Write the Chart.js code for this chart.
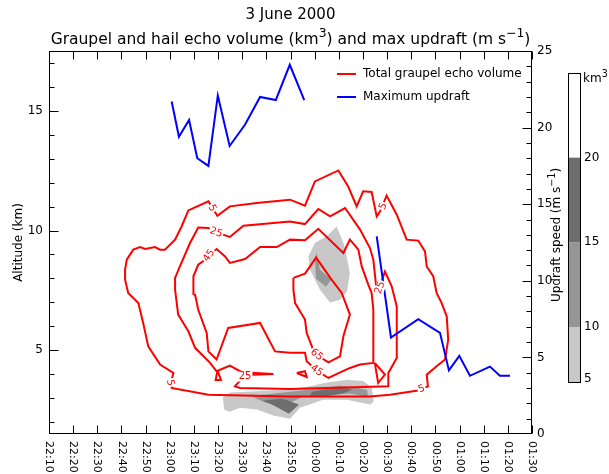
<!DOCTYPE html>
<html>
<head>
<meta charset="utf-8">
<script src="https://cdn.jsdelivr.net/npm/chart.js@4.4.0/dist/chart.umd.min.js"></script>
<style>
  html, body { margin: 0; padding: 0; background: #fff; }
</style>
</head>
<body>
<canvas id="chart" width="609" height="474"></canvas>
<script>
// x axis: minutes after 22:10
const timeLabels = ['22:10', '22:20', '22:30', '22:40', '22:50', '23:00', '23:10', '23:20', '23:30', '23:40', '23:50',
                    '00:00', '00:10', '00:20', '00:30', '00:40', '00:50', '01:00', '01:10', '01:20', '01:30'];
const altitudeTicks = [2, 3, 4, 5, 6, 7, 8, 9, 10, 11, 12, 13, 14, 15, 16, 17];

// maximum updraft (m/s), null = no data
const updraftTime  = [50.8, 53.8, 58.0, 61.4, 66.0, 69.9, 74.8, 81.2, 87.4, 93.9, 99.7, 105.7,
                      120, 135.7, 141.6, 152.9, 161.9, 165.6, 169.9, 174.3, 182.6, 186.7, 190.9];
const updraftSpeed = [21.7, 19.4, 20.5, 18.0, 17.5, 22.1, 18.8, 20.2, 22.0, 21.8, 24.1, 21.8,
                      null, 12.9, 6.3, 7.5, 6.6, 4.15, 5.1, 3.8, 4.4, 3.8, 3.8];

// total graupel echo volume contours [minutes, km]
const contour5 = [[31.5, 8.37], [32.2, 8.78], [34.9, 9.20], [37.7, 9.31], [39.8, 9.23], [43.9, 9.31], [46.0, 9.20],
  [48.0, 9.20], [52.2, 9.62], [54.9, 10.17], [57.7, 10.84], [66.0, 11.22], [69.7, 10.62], [74.9, 11.01], [86.0, 11.15],
  [99.8, 11.29], [106.0, 11.04], [110.1, 12.05], [119.8, 12.51], [123.9, 11.84], [127.4, 11.01], [130.1, 11.64],
  [133.6, 11.61], [135.7, 10.59], [137.1, 10.80], [139.8, 11.46], [144.0, 10.66], [148.1, 9.62], [152.9, 9.58],
  [155.7, 9.13], [156.4, 8.50], [159.1, 8.09], [160.5, 7.39], [162.6, 6.97], [164.7, 6.41], [165.3, 5.44],
  [164.0, 4.61], [160.5, 4.33], [156.4, 3.98], [156.9, 3.49], [152.8, 3.32], [141.2, 3.14], [132.9, 3.07],
  [99.8, 3.07], [66.0, 3.14], [50.8, 3.42], [50.8, 3.77], [51.5, 4.05], [46.0, 4.40], [41.1, 5.16], [39.0, 6.14],
  [37.0, 6.97], [32.8, 7.39], [31.5, 7.95]];
const contour25 = [[52.2, 7.53], [52.2, 8.02], [54.2, 8.50], [58.4, 9.48], [61.8, 10.13], [66.0, 10.11], [69.2, 9.92],
  [74.9, 9.73], [80.5, 10.20], [99.8, 10.38], [106.0, 10.27], [111.5, 10.90], [116.4, 10.59], [122.6, 10.94],
  [128.8, 10.04], [132.9, 9.27], [134.3, 8.78], [135.4, 7.74], [136.6, 7.49], [137.9, 7.91], [139.1, 8.29],
  [141.9, 7.67], [144.0, 6.83], [144.0, 4.68], [140.5, 4.05], [140.5, 3.49], [99.8, 3.38], [79.1, 3.42],
  [77.0, 3.49], [79.1, 3.73], [81.2, 3.96], [92.9, 4.01], [79.8, 4.08], [74.9, 4.36], [69.4, 4.12], [66.7, 4.47],
  [60.5, 5.10], [57.7, 5.79], [53.5, 6.49]];
const contour45 = [[59.8, 7.32], [59.8, 8.09], [61.8, 8.57], [64.6, 8.78], [66.3, 8.95], [69.4, 9.23], [72.9, 8.92],
  [74.9, 8.65], [81.2, 8.81], [87.4, 9.31], [94.3, 9.31], [99.8, 9.62], [106.0, 9.59], [111.5, 10.07], [121.9, 9.06],
  [124.6, 9.62], [128.1, 9.20], [129.5, 8.50], [132.2, 7.74], [133.6, 7.39], [134.3, 6.69], [134.3, 4.47],
  [128.8, 4.40], [124.6, 4.26], [115.7, 3.84], [110.8, 4.15], [106.7, 4.54], [106.0, 4.89], [99.8, 4.89],
  [93.6, 4.95], [87.4, 6.14], [74.2, 5.93], [69.4, 4.61], [66.0, 4.95], [65.3, 5.72], [61.8, 6.69], [60.5, 7.32]];
const contour65 = [[101.2, 8.02], [106.0, 8.20], [110.6, 8.87], [116.4, 8.03], [121.2, 7.39], [124.6, 6.49],
  [121.9, 5.58], [120.5, 4.74], [115.7, 4.49], [110.8, 4.81], [109.4, 5.02], [106.7, 5.72], [106.0, 6.28],
  [101.9, 6.97], [101.2, 7.53]];
const contourBits = [
  [[69.8, 4.15], [69.0, 3.76], [71.2, 3.76]],
  [[102.6, 4.05], [106.0, 4.12], [106.7, 3.88]],
  [[134.9, 4.47], [139.1, 3.98], [136.3, 3.63]]
];
const contourLabels = [
  {text: '5',  t: 67.5,  h: 10.93, rot: 60},
  {text: '25', t: 69.2,  h: 9.92,  rot: 20},
  {text: '45', t: 66.3,  h: 8.95,  rot: -55},
  {text: '5',  t: 50.1,  h: 3.64,  rot: 80},
  {text: '25', t: 81.2,  h: 3.90,  rot: 0},
  {text: '65', t: 110.8, h: 4.81,  rot: 40},
  {text: '45', t: 110.8, h: 4.15,  rot: 35},
  {text: '5',  t: 154.3, h: 3.38,  rot: -20},
  {text: '5',  t: 138.4, h: 11.01, rot: -65},
  {text: '25', t: 137.1, h: 7.61,  rot: -70}
];

// graupel and hail echo volume (km3) shaded areas [minutes, km]
const vol5 = [
  [[119.1, 10.17], [122.2, 9.41], [124.6, 8.24], [123.4, 7.45], [120.5, 7.11], [116.4, 6.99], [112.2, 7.53],
   [108.1, 8.36], [107.4, 8.92], [110.1, 9.48], [115.0, 9.76]],
  [[72.0, 3.02], [74.9, 3.23], [86.1, 3.29], [99.8, 3.37], [108.1, 3.50], [113.5, 3.62], [123.4, 3.77], [130.0, 3.71],
   [133.7, 3.44], [134.4, 2.85], [132.9, 2.73], [123.4, 2.93], [113.5, 2.93], [103.9, 2.60], [99.8, 2.14],
   [92.8, 2.27], [86.1, 2.52], [79.1, 2.60], [74.9, 2.43], [72.5, 2.52]]
];
const vol10 = [
  [[110.8, 9.08], [112.2, 8.36], [116.8, 7.95], [114.7, 7.65], [110.6, 7.99], [110.1, 8.78]],
  [[84.1, 3.10], [91.5, 3.17], [99.8, 3.27], [109.3, 3.37], [120.5, 3.52], [126.3, 3.44], [131.7, 3.35],
   [132.1, 3.06], [124.6, 3.19], [113.5, 3.12], [105.2, 3.06], [100.6, 2.85], [97.7, 2.52], [91.5, 2.77], [86.5, 2.94]]
];
const vol15 = [
  [[88.2, 2.89], [96.5, 2.98], [103.5, 2.73], [99.4, 2.35], [92.3, 2.73]],
  [[108.9, 3.27], [120.5, 3.46], [125.5, 3.35], [121.7, 3.19], [113.5, 3.06], [108.1, 3.10]]
];
const volumeLevels = [5, 10, 15, 20];
const volumeColors = ['#c8c8c8', '#969696', '#6e6e6e'];

const FONT = '"DejaVu Sans", sans-serif';

function closed(arr) {
    const pts = arr.map(([t, h]) => ({x: t, y: h}));
    pts.push({x: arr[0][0], y: arr[0][1]});
    return pts;
}

// text with superscript parts: [[text, isSup], ...]
function richWidth(ctx, parts, size) {
    let w = 0;
    parts.forEach(([s, sup]) => {
        ctx.font = (sup ? size * 0.8 : size) + 'px ' + FONT;
        w += ctx.measureText(s).width;
    });
    return w;
}
function drawRich(ctx, parts, x, y, size) {
    parts.forEach(([s, sup]) => {
        ctx.font = (sup ? size * 0.8 : size) + 'px ' + FONT;
        ctx.fillText(s, x, sup ? y - size * 0.45 : y);
        x += ctx.measureText(s).width;
    });
}

const datasets = [];
vol5.forEach(p => datasets.push({data: closed(p), backgroundColor: volumeColors[0], borderWidth: 0, fill: 'shape', order: 4}));
vol10.forEach(p => datasets.push({data: closed(p), backgroundColor: volumeColors[1], borderWidth: 0, fill: 'shape', order: 3}));
vol15.forEach(p => datasets.push({data: closed(p), backgroundColor: volumeColors[2], borderWidth: 0, fill: 'shape', order: 2}));
[contour5, contour25, contour45, contour65, ...contourBits].forEach(c => {
    datasets.push({data: closed(c), borderColor: '#ff0000', borderWidth: 2, fill: false, order: 1});
});
datasets.push({
    data: updraftTime.map((t, i) => ({x: t, y: updraftSpeed[i]})),
    yAxisID: 'y2', borderColor: '#0000ff', borderWidth: 2, fill: false, spanGaps: false, order: 0
});

const decorations = {
    id: 'decorations',
    afterDatasetsDraw(chart) {
        const {ctx, scales: {x, y}} = chart;
        ctx.save();
        ctx.font = '10px ' + FONT;
        ctx.textAlign = 'center';
        ctx.textBaseline = 'middle';
        contourLabels.forEach(l => {
            ctx.save();
            ctx.translate(x.getPixelForValue(l.t), y.getPixelForValue(l.h));
            ctx.rotate(l.rot * Math.PI / 180);
            const w = ctx.measureText(l.text).width;
            ctx.fillStyle = '#fff';
            ctx.fillRect(-w / 2 - 1, -5, w + 2, 10);
            ctx.fillStyle = '#ff0000';
            ctx.fillText(l.text, 0, 0);
            ctx.restore();
        });
        ctx.restore();
    },
    afterDraw(chart) {
        const {ctx, chartArea: a, scales: {x, y, y2}} = chart;
        ctx.save();
        ctx.strokeStyle = '#000';
        ctx.fillStyle = '#000';
        ctx.lineWidth = 1;
        const L = Math.round(a.left) + 0.5, R = Math.round(a.right) - 0.5;
        const T = Math.round(a.top) + 0.5, B = Math.round(a.bottom) - 0.5;
        ctx.strokeRect(L, T, R - L, B - T);

        // inward ticks
        ctx.beginPath();
        x.ticks.forEach(t => {
            const px = Math.round(x.getPixelForValue(t.value)) + 0.5;
            ctx.moveTo(px, T); ctx.lineTo(px, T + 8);
            ctx.moveTo(px, B); ctx.lineTo(px, B - 8);
        });
        y.ticks.forEach(t => {
            const py = Math.round(y.getPixelForValue(t.value)) + 0.5;
            ctx.moveTo(L, py); ctx.lineTo(L + (t.value % 5 === 0 ? 9 : 5), py);
        });
        y2.ticks.forEach(t => {
            if (t.value <= 0 || t.value >= 25) return;
            const py = Math.round(y2.getPixelForValue(t.value)) + 0.5;
            ctx.moveTo(R, py); ctx.lineTo(R - (t.value % 5 === 0 ? 9 : 5), py);
        });
        ctx.stroke();

        // rotated time labels
        ctx.font = '11px ' + FONT;
        ctx.textAlign = 'left';
        ctx.textBaseline = 'middle';
        x.ticks.forEach(t => {
            ctx.save();
            ctx.translate(x.getPixelForValue(t.value), a.bottom + 7);
            ctx.rotate(Math.PI / 2);
            ctx.fillText(timeLabels[Math.round(t.value / 10)], 0, 0);
            ctx.restore();
        });

        // titles
        const cx = (a.left + a.right) / 2;
        ctx.textAlign = 'center';
        ctx.textBaseline = 'alphabetic';
        ctx.font = '15px ' + FONT;
        ctx.fillText('3 June 2000', cx, 19);
        ctx.textAlign = 'left';
        const title = [['Graupel and hail echo volume (km', false], ['3', true], [') and max updraft (m s', false], ['\u22121', true], [')', false]];
        drawRich(ctx, title, cx - richWidth(ctx, title, 15.5) / 2, 44, 15.5);

        // axis titles
        ctx.save();
        ctx.translate(22, (a.top + a.bottom) / 2);
        ctx.rotate(-Math.PI / 2);
        ctx.textAlign = 'center';
        ctx.font = '12px ' + FONT;
        ctx.fillText('Altitude (km)', 0, 0);
        ctx.restore();

        ctx.save();
        const rt = [['Updraft speed (m s', false], ['\u22121', true], [')', false]];
        ctx.translate(560, 235);
        ctx.rotate(-Math.PI / 2);
        drawRich(ctx, rt, -richWidth(ctx, rt, 12) / 2, 0, 12);
        ctx.restore();

        // legend
        ctx.lineWidth = 2;
        ctx.font = '12px ' + FONT;
        ctx.textBaseline = 'middle';
        [['Total graupel echo volume', '#ff0000', 74], ['Maximum updraft', '#0000ff', 97]].forEach(([s, c, ly]) => {
            ctx.strokeStyle = c;
            ctx.beginPath(); ctx.moveTo(337, ly); ctx.lineTo(356, ly); ctx.stroke();
            ctx.fillText(s, 363, ly);
        });

        // colour bar
        const cbL = 568, cbW = 12, cbTop = 73, cbBot = 382, cbMin = 6.75, cbMax = 25;
        const cbY = v => cbBot - (v - cbMin) / (cbMax - cbMin) * (cbBot - cbTop);
        volumeColors.forEach((c, i) => {
            const y0 = i === 0 ? cbBot : cbY(volumeLevels[i]);
            const y1 = cbY(volumeLevels[i + 1]);
            ctx.fillStyle = c;
            ctx.fillRect(cbL, y1, cbW, y0 - y1);
        });
        ctx.lineWidth = 1;
        ctx.strokeStyle = '#000';
        ctx.strokeRect(cbL + 0.5, cbTop + 0.5, cbW, cbBot - cbTop);
        ctx.fillStyle = '#000';
        ctx.font = '12px ' + FONT;
        ctx.textAlign = 'left';
        volumeLevels.forEach((v, i) => {
            ctx.fillText(String(v), cbL + cbW + 4, i === 0 ? cbBot - 3 : cbY(v));
        });
        ctx.textBaseline = 'alphabetic';
        drawRich(ctx, [['km', false], ['3', true]], cbL + cbW + 3, 82, 12);
        ctx.restore();
    }
};

new Chart(document.getElementById('chart'), {
    type: 'line',
    data: {datasets},
    options: {
        responsive: false,
        animation: false,
        devicePixelRatio: 1,
        layout: {padding: {top: 51, left: 0, right: 0, bottom: 0}},
        elements: {point: {radius: 0}, line: {tension: 0}},
        plugins: {legend: {display: false}, tooltip: {enabled: false}},
        scales: {
            x: {
                type: 'linear', min: 0, max: 200,
                ticks: {display: false, stepSize: 10},
                grid: {display: false, drawTicks: false},
                border: {display: false},
                afterFit: s => { s.height = 40; }
            },
            y: {
                position: 'left', min: 1.5, max: 17.5,
                afterBuildTicks: s => { s.ticks = altitudeTicks.map(v => ({value: v})); },
                ticks: {autoSkip: false, padding: 6, color: '#000', font: {family: FONT, size: 12},
                        callback: v => (v % 5 === 0 ? v : '')},
                grid: {display: false, drawTicks: false},
                border: {display: false},
                afterFit: s => { s.width = 49; }
            },
            y2: {
                position: 'right', min: 0, max: 25,
                ticks: {stepSize: 1, autoSkip: false, padding: 5, color: '#000', font: {family: FONT, size: 12},
                        callback: v => (v % 5 === 0 ? v : '')},
                grid: {display: false, drawTicks: false},
                border: {display: false},
                afterFit: s => { s.width = 77; }
            }
        }
    },
    plugins: [decorations]
});
</script>
</body>
</html>
